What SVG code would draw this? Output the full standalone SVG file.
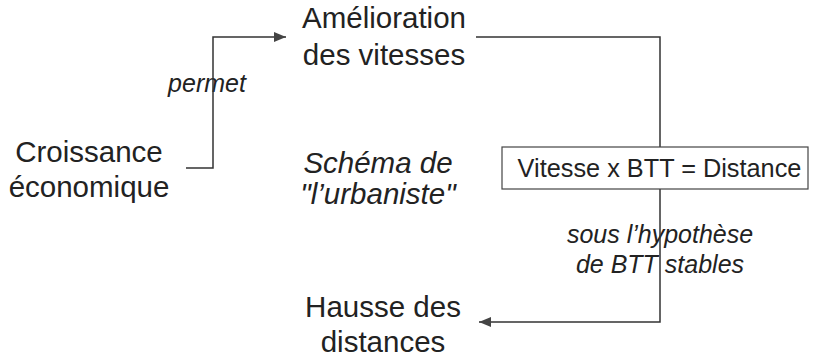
<svg xmlns="http://www.w3.org/2000/svg" width="813" height="357" viewBox="0 0 813 357">
<style>
text{font-family:"Liberation Sans",Arial,sans-serif;fill:#222;text-anchor:middle}
.n{font-size:29.5px}
.l{font-size:25px;font-style:italic}
.t{font-size:29.5px;font-style:italic}
.c{fill:none;stroke:#333;stroke-width:1.5}
</style>
<defs>
<marker id="ah" viewBox="0 0 12 10" refX="12" refY="5" markerWidth="12" markerHeight="10" markerUnits="userSpaceOnUse" orient="auto">
<path d="M0,0 L12,5 L0,10 z" fill="#444"/>
</marker>
</defs>
<rect width="813" height="357" fill="#fff"/>
<g id="croissance"><text class="n" x="89" y="162">Croissance</text><text class="n" x="89" y="197">économique</text></g>
<g id="amelioration"><text class="n" x="384" y="28">Amélioration</text><text class="n" x="384" y="65">des vitesses</text></g>
<g id="hausse"><text class="n" x="383" y="317">Hausse des</text><text class="n" x="383" y="352">distances</text></g>
<g id="schema"><text class="t" x="378" y="173">Schéma de</text><text class="t" x="378" y="204">"l’urbaniste"</text></g>
<g id="labels">
<text class="l" x="207" y="92">permet</text>
<text class="l" x="660" y="243">sous l’hypothèse</text>
<text class="l" x="660" y="273">de BTT stables</text>
</g>
<g id="connectors">
<path class="c" d="M186,168 H213 V37 H286" marker-end="url(#ah)"/>
<path class="c" d="M476,37 H660 V322 H479" marker-end="url(#ah)"/>
</g>
<g id="formule">
<rect x="502" y="147" width="306" height="42" fill="#fff" stroke="#444" stroke-width="1.2"/>
<text x="659.5" y="177" style="font-size:25.3px">Vitesse x BTT = Distance</text>
</g>
</svg>
